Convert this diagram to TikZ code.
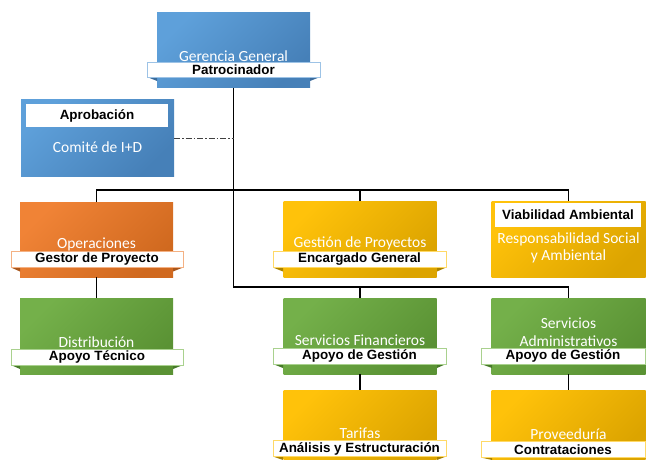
\documentclass[tikz,border=0pt]{standalone}
\usepackage{fontspec}
\setmainfont{Carlito}
\newfontfamily\labfont{Liberation Sans}
\definecolor{blueL}{HTML}{5EA0DA}
\definecolor{blueD}{HTML}{4680B8}
\definecolor{blueB}{HTML}{9DC3E6}
\definecolor{blueT}{HTML}{3C6C9C}
\definecolor{orgL}{HTML}{F08336}
\definecolor{orgD}{HTML}{D0691F}
\definecolor{orgB}{HTML}{F4B183}
\definecolor{orgT}{HTML}{A8561C}
\definecolor{yelL}{HTML}{FFC20A}
\definecolor{yelD}{HTML}{DCA400}
\definecolor{yelB}{HTML}{FFD966}
\definecolor{yelT}{HTML}{A98200}
\definecolor{grnL}{HTML}{74B04A}
\definecolor{grnD}{HTML}{5A9234}
\definecolor{grnB}{HTML}{A9D18E}
\definecolor{grnT}{HTML}{477A2A}
\begin{document}
\begin{tikzpicture}[x=1pt,y=-1pt,
  box/.style={inner sep=0pt, outer sep=0pt, minimum width=153pt, minimum height=76pt},
  bluebox/.style={box, top color=blueL, bottom color=blueD, shading angle=45},
  orgbox/.style={box, top color=orgL, bottom color=orgD, shading angle=45},
  yelbox/.style={box, top color=yelL, bottom color=yelD, shading angle=45},
  grnbox/.style={box, top color=grnL, bottom color=grnD, shading angle=45},
  ttl/.style={text=white, font=\fontsize{15.5}{17.5}\selectfont, inner sep=0pt, align=center},
  band/.style={fill=white, draw=#1, line width=0.8pt, inner sep=0pt, minimum height=16pt,
    font=\labfont\bfseries\fontsize{13.4}{15}\selectfont},
  plainband/.style={fill=white, inner sep=0pt, font=\labfont\bfseries\fontsize{13.4}{15}\selectfont},
  link/.style={draw=black, line width=1.2pt},
  aux/.style={draw=black!75, line width=1pt, dash pattern=on 6pt off 2pt on 1.5pt off 2pt}]
\useasboundingbox (0,0) rectangle (646,460);

% ---- boxes
\node[bluebox, minimum height=75pt] (gg) at (233.5,50.5) {};
\node[bluebox] (com) at (97.5,138) {};
\node[orgbox, minimum height=75pt] (ops) at (96.5,239.5) {};
\node[yelbox] (gp) at (360,239) {};
\node[yelbox, minimum width=154pt] (via) at (568.5,239) {};
\node[grnbox] (dis) at (96.5,336) {};
\node[grnbox] (sf) at (360,336) {};
\node[grnbox, minimum width=154pt] (sa) at (568.5,336) {};
\node[yelbox, minimum height=70pt] (tar) at (360,425) {};
\node[yelbox, minimum width=154pt, minimum height=70pt] (prov) at (568.5,425) {};

% ---- titles
\node[ttl] (ggt) at (233.5,56) {Gerencia General};
\node[ttl] (comt) at (97.5,147) {Comité de I+D};
\node[ttl] (opst) at (96.5,244) {Operaciones};
\node[ttl] (gpt) at (360,243) {Gestión de Proyectos};
\node[ttl] (viat) at (568.5,248) {Responsabilidad Social\\y Ambiental};
\node[ttl] (dist) at (96.5,342) {Distribución};
\node[ttl] (sft) at (360,340) {Servicios Financieros};
\node[ttl] (sat) at (568.5,332) {Servicios\\Administrativos};
\node[ttl] (tart) at (360,433) {Tarifas};
\node[ttl] (provt) at (568.5,434) {Proveeduría};

% ---- ribbon tails
\fill[blueT] (147,77) -- (157,77) -- (157,81) -- cycle;
\fill[blueT] (320,77) -- (310,77) -- (310,81) -- cycle;
\fill[orgT] (11,267.5) -- (20,267.5) -- (20,271.5) -- cycle;
\fill[orgT] (183,267.5) -- (173,267.5) -- (173,271.5) -- cycle;
\fill[yelT] (273,267.5) -- (283,267.5) -- (283,271.5) -- cycle;
\fill[yelT] (446,267.5) -- (437,267.5) -- (437,271.5) -- cycle;
\fill[grnT] (11,365) -- (20,365) -- (20,369) -- cycle;
\fill[grnT] (183,365) -- (173,365) -- (173,369) -- cycle;
\fill[grnT] (273,364) -- (283,364) -- (283,368) -- cycle;
\fill[grnT] (446,364) -- (437,364) -- (437,368) -- cycle;
\fill[grnT] (481,364) -- (492,364) -- (492,368) -- cycle;
\fill[yelT] (273,456.5) -- (283,456.5) -- (283,460) -- cycle;
\fill[yelT] (446,456.5) -- (437,456.5) -- (437,460) -- cycle;
\fill[yelT] (481,457.5) -- (492,457.5) -- (492,460) -- cycle;

% ---- label bands
\node[band=blueB, minimum width=173pt, minimum height=15pt] (ggb) at (233.5,70) {Patrocinador};
\node[plainband, minimum width=142pt, minimum height=23pt] (comb) at (97,115.5) {Aprobación};
\node[band=orgB, minimum width=172pt] (opsb) at (97,259.5) {Gestor de Proyecto};
\node[band=yelB, minimum width=173pt] (gpb) at (359.5,259.5) {Encargado General};
\node[plainband, minimum width=146pt, minimum height=24pt] (viab) at (568,215) {Viabilidad Ambiental};
\node[band=grnB, minimum width=172pt] (disb) at (97,357) {Apoyo Técnico};
\node[band=grnB, minimum width=173pt] (sfb) at (359.5,356) {Apoyo de Gestión};
\node[band=grnB, minimum width=164pt] (sab) at (563,356) {Apoyo de Gestión};
\node[band=yelB, minimum width=173pt] (tarb) at (359.5,448.5) {Análisis y Estructuración};
\node[band=yelB, minimum width=164pt] (provb) at (563,449.5) {Contrataciones};

% ---- connectors
\coordinate (busA) at (0,190);
\coordinate (busB) at (0,287);
\draw[link] (gg.south) -- (gg.south |- busB) -- (sa.north |- busB) -- (sa.north);
\draw[link] (ops.north) -- (ops.north |- busA) -- (via.north |- busA) -- (via.north);
\draw[link] (gp.north) -- (gp.north |- busA);
\draw[link] (sf.north) -- (sf.north |- busB);
\draw[link] (ops.south) -- (dis.north);
\draw[link] (sf.south) -- (tar.north);
\draw[link] (sa.south) -- (prov.north);
\draw[aux] (com.east) -- (com.east -| gg.south);
\end{tikzpicture}
\end{document}
